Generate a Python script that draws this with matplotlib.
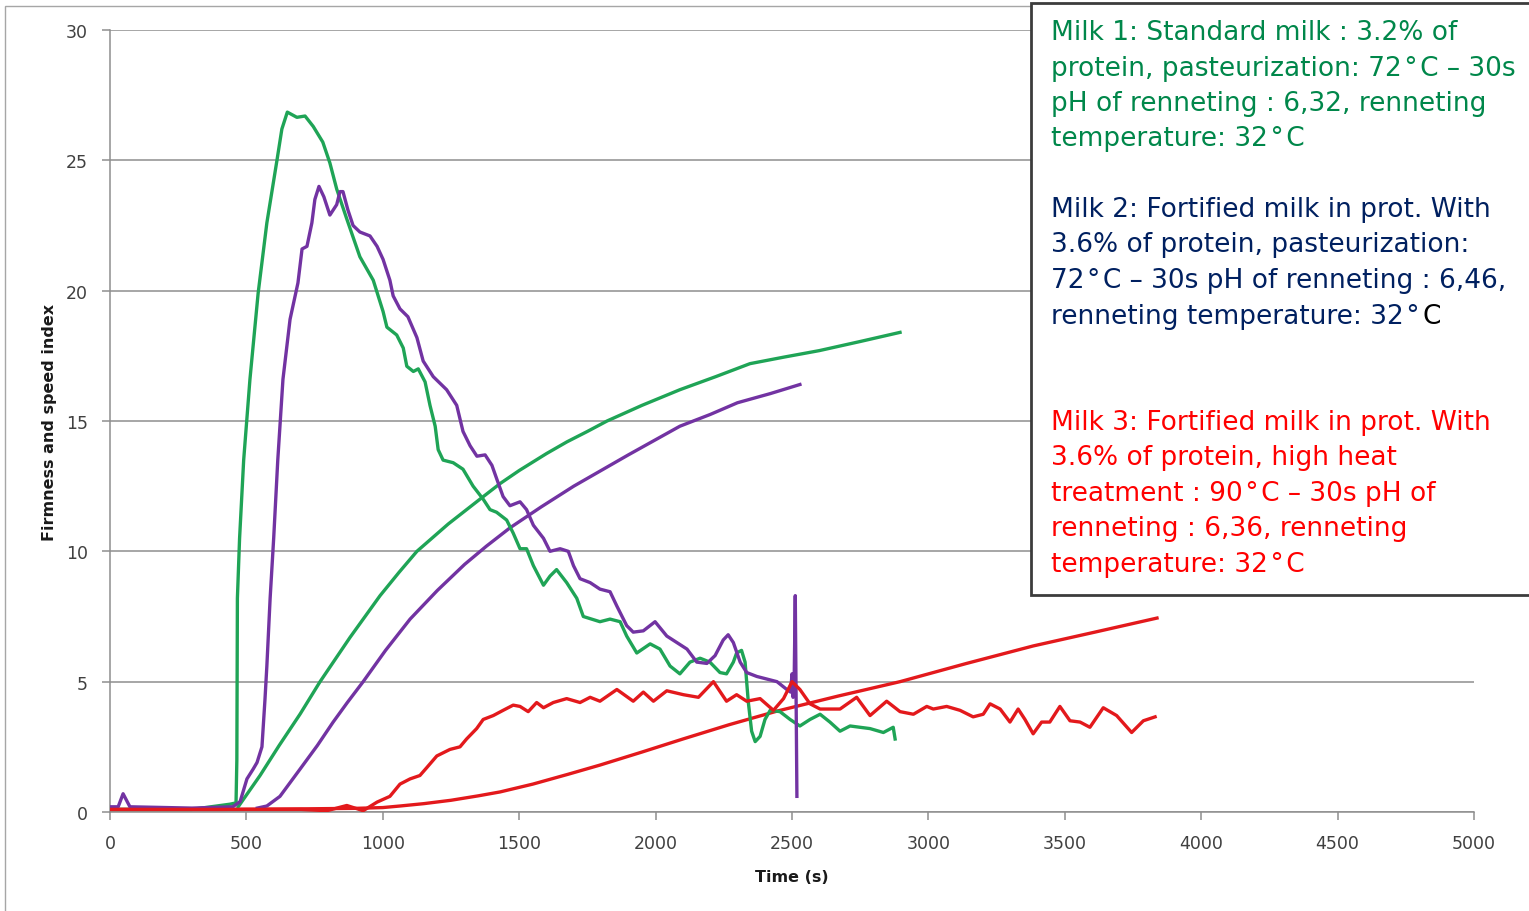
import matplotlib.pyplot as plt
from matplotlib.patches import Rectangle

W, H = 1529, 912

# Milk 1 (standard milk)
m1_speed_t = [0, 300, 440, 462, 465, 467, 475, 490, 513, 543, 575, 612, 630, 650, 685, 715, 745,
              780, 806, 831, 868, 916, 965, 1001, 1015, 1051, 1075, 1088, 1112, 1130, 1155, 1173,
              1192, 1203, 1221, 1258, 1294, 1331, 1368, 1393, 1417, 1454, 1478, 1503, 1527, 1552,
              1589, 1613, 1637, 1674, 1711, 1735, 1796, 1833, 1870, 1894, 1931, 1980, 2016, 2053,
              2089, 2126, 2163, 2199, 2236, 2260, 2285, 2297, 2315, 2328, 2340, 2352, 2365, 2383,
              2401, 2420, 2456, 2493, 2529, 2566, 2603, 2639, 2676, 2713, 2749, 2786, 2835, 2871, 2878]
m1_speed = [0.1, 0.1, 0.3, 0.35, 2.0, 8.2, 10.5, 13.5, 16.6, 19.9, 22.6, 25.0, 26.2, 26.85, 26.65,
            26.7, 26.3, 25.7, 24.9, 23.9, 22.75, 21.3, 20.4, 19.2, 18.6, 18.3, 17.8, 17.1, 16.9, 17.0,
            16.5, 15.6, 14.8, 13.9, 13.5, 13.4, 13.15, 12.5, 12.0, 11.6, 11.5, 11.2, 10.7, 10.1, 10.1,
            9.45, 8.7, 9.05, 9.3, 8.8, 8.2, 7.5, 7.3, 7.4, 7.3, 6.75, 6.1, 6.45, 6.25, 5.6, 5.3, 5.75,
            5.9, 5.75, 5.35, 5.3, 5.75, 6.1, 6.2, 5.75, 4.2, 3.1, 2.7, 2.9, 3.55, 3.9, 3.85, 3.55,
            3.3, 3.55, 3.75, 3.45, 3.1, 3.3, 3.25, 3.2, 3.05, 3.25, 2.8]
m1_firm_t = [470, 550, 620, 697, 770, 880, 990, 1060, 1125, 1240, 1356, 1430, 1500, 1600, 1675,
             1750, 1822, 1950, 2089, 2220, 2346, 2470, 2600, 2750, 2896]
m1_firm = [0.2, 1.4, 2.55, 3.76, 5.0, 6.7, 8.3, 9.2, 10.0, 11.05, 12.0, 12.6, 13.1, 13.75, 14.2,
           14.6, 15.0, 15.6, 16.2, 16.7, 17.2, 17.45, 17.7, 18.05, 18.4]

# Milk 2 (fortified, pasteurized)
m2_speed_t = [0, 30, 48, 73, 300, 450, 477, 502, 525, 539, 557, 568, 575, 587, 600, 615, 634, 660,
              689, 704, 722, 740, 751, 766, 784, 806, 831, 843, 854, 872, 891, 916, 953, 979, 1001,
              1026, 1038, 1063, 1092, 1125, 1148, 1185, 1234, 1271, 1294, 1320, 1345, 1375, 1400,
              1422, 1441, 1466, 1503, 1527, 1552, 1589, 1613, 1650, 1680, 1699, 1723, 1760, 1796,
              1833, 1858, 1894, 1918, 1955, 1998, 2041, 2078, 2115, 2151, 2188, 2218, 2248, 2266,
              2285, 2310, 2334, 2371, 2408, 2445, 2481, 2495, 2500, 2504, 2508, 2512, 2518]
m2_speed = [0.2, 0.2, 0.7, 0.2, 0.15, 0.2, 0.4, 1.27, 1.65, 1.9, 2.5, 4.3, 5.6, 8.2, 10.5, 13.5,
            16.6, 18.9, 20.3, 21.6, 21.7, 22.6, 23.5, 24.0, 23.6, 22.9, 23.3, 23.8, 23.8, 23.1, 22.5,
            22.25, 22.1, 21.7, 21.2, 20.4, 19.8, 19.3, 19.0, 18.2, 17.3, 16.7, 16.2, 15.6, 14.6, 14.05,
            13.65, 13.7, 13.3, 12.65, 12.1, 11.75, 11.9, 11.6, 11.0, 10.5, 10.0, 10.1, 10.0, 9.45,
            8.95, 8.8, 8.55, 8.45, 7.9, 7.15, 6.9, 6.95, 7.3, 6.75, 6.5, 6.25, 5.75, 5.7, 6.0, 6.6,
            6.8, 6.5, 5.75, 5.35, 5.2, 5.1, 5.0, 4.7, 4.6, 5.3, 4.4, 5.1, 8.3, 0.6]
m2_firm_t = [540, 575, 623, 697, 760, 818, 870, 928, 1010, 1100, 1200, 1300, 1380, 1466, 1580,
             1700, 1900, 2089, 2200, 2300, 2420, 2529]
m2_firm = [0.15, 0.23, 0.6, 1.65, 2.55, 3.45, 4.2, 5.0, 6.2, 7.4, 8.5, 9.5, 10.2, 10.9, 11.7,
           12.5, 13.7, 14.8, 15.25, 15.7, 16.05, 16.4]

# Milk 3 (fortified, high heat treatment)
m3_speed_t = [0, 400, 700, 795, 868, 928, 979, 1026, 1063, 1100, 1136, 1161, 1198, 1246, 1283,
              1307, 1344, 1368, 1405, 1441, 1478, 1503, 1533, 1564, 1589, 1625, 1674, 1723, 1760,
              1796, 1858, 1918, 1955, 1992, 2041, 2102, 2157, 2212, 2260, 2297, 2334, 2383, 2432,
              2469, 2500, 2529, 2566, 2603, 2676, 2737, 2786, 2847, 2896, 2945, 2994, 3018, 3067,
              3116, 3164, 3201, 3226, 3263, 3299, 3329, 3354, 3384, 3415, 3445, 3482, 3519, 3556,
              3592, 3641, 3690, 3745, 3788, 3831]
m3_speed = [0.1, 0.1, 0.1, 0.05, 0.25, 0.05, 0.38, 0.6, 1.07, 1.27, 1.4, 1.7, 2.15, 2.4, 2.5, 2.8,
            3.2, 3.55, 3.7, 3.9, 4.1, 4.05, 3.85, 4.2, 4.0, 4.2, 4.35, 4.2, 4.4, 4.25, 4.7, 4.25,
            4.6, 4.25, 4.65, 4.5, 4.4, 5.0, 4.25, 4.5, 4.25, 4.35, 3.9, 4.35, 5.0, 4.7, 4.15, 3.95,
            3.95, 4.4, 3.7, 4.25, 3.85, 3.75, 4.05, 3.95, 4.05, 3.9, 3.65, 3.75, 4.15, 3.95, 3.45,
            3.95, 3.55, 3.0, 3.45, 3.45, 4.05, 3.5, 3.45, 3.25, 4.0, 3.7, 3.05, 3.5, 3.65]
m3_firm_t = [0, 400, 700, 900, 1000, 1063, 1150, 1250, 1350, 1430, 1550, 1680, 1796, 1950, 2100,
             2270, 2445, 2670, 2896, 3140, 3384, 3610, 3838]
m3_firm = [0.1, 0.1, 0.12, 0.14, 0.17, 0.23, 0.32, 0.45, 0.62, 0.77, 1.07, 1.45, 1.8, 2.3, 2.8,
           3.35, 3.87, 4.45, 5.0, 5.7, 6.37, 6.9, 7.44]

x_ticks = [0, 500, 1000, 1500, 2000, 2500, 3000, 3500, 4000, 4500, 5000]
y_ticks = [0, 5, 10, 15, 20, 25, 30]

DEG = '\u200a°\u200a'
milk1_lines = ["Milk 1: Standard milk : 3.2% of",
               f"protein, pasteurization: 72{DEG}C – 30s",
               "pH of renneting : 6,32, renneting",
               f"temperature: 32{DEG}C"]
milk2_lines = ["Milk 2: Fortified milk in prot. With",
               "3.6% of protein, pasteurization:",
               f"72{DEG}C – 30s pH of renneting : 6,46,",
               f"renneting temperature: 32{DEG}"]
milk3_lines = ["Milk 3: Fortified milk in prot. With",
               "3.6% of protein, high heat",
               f"treatment : 90{DEG}C – 30s pH of",
               "renneting : 6,36, renneting",
               f"temperature: 32{DEG}C"]

GREEN = '#1fa456'
PURPLE = '#7233a2'
RED = '#e3191c'
GRID = '#8e8e8e'

fig = plt.figure(figsize=(W / 100, H / 100), dpi=100)
ax = fig.add_axes([110 / W, 1 - 813 / H, (1474 - 110) / W, (813 - 31) / H])

lw = 2.4
ax.plot(m3_firm_t, m3_firm, color=RED, lw=lw, zorder=3)
ax.plot(m2_firm_t, m2_firm, color=PURPLE, lw=lw, zorder=3)
ax.plot(m1_firm_t, m1_firm, color=GREEN, lw=lw, zorder=3)
ax.plot(m1_speed_t, m1_speed, color=GREEN, lw=lw, zorder=3)
ax.plot(m2_speed_t, m2_speed, color=PURPLE, lw=lw, zorder=3)
ax.plot(m3_speed_t, m3_speed, color=RED, lw=lw, zorder=4)

ax.set_xlim(0, 5000)
ax.set_ylim(0, 30)
ax.set_xticks(x_ticks)
ax.set_yticks(y_ticks)
ax.yaxis.grid(True, color=GRID, lw=1.1)
ax.set_axisbelow(True)
for side in ['top', 'right']:
    ax.spines[side].set_visible(False)
for side in ['left', 'bottom']:
    ax.spines[side].set_color(GRID)
    ax.spines[side].set_linewidth(1.1)
ax.tick_params(axis='both', colors=GRID, length=6, width=1.1, labelsize=12.5, labelcolor='#404040')
ax.tick_params(axis='x', pad=10)
ax.tick_params(axis='y', pad=10)
ax.set_xlabel('Time (s)', fontsize=11.5, fontweight='bold', color='#1a1a1a', labelpad=12)
ax.set_ylabel('Firmness and speed index', fontsize=11.5, fontweight='bold', color='#1a1a1a', labelpad=6)

# outer chart frame
fig.patches.append(Rectangle((5 / W, -0.1), 1.2, 1 - 7 / H + 0.1, transform=fig.transFigure,
                             fill=False, edgecolor='#a6a6a6', lw=1.0, zorder=0))

# description box
fig.patches.append(Rectangle((1031 / W, 1 - 596 / H), 0.5, (596 - 4) / H, transform=fig.transFigure,
                             facecolor='white', edgecolor='#3c3c3c', lw=2.0, zorder=5))

font = dict(family='DejaVu Sans', fontsize=19, va='center', ha='left', zorder=6)


def put_lines(lines, y0, color):
    txt = None
    for i, line in enumerate(lines):
        txt = fig.text(1051 / W, 1 - (y0 + i * 35.5) / H, line, color=color, **font)
    return txt


put_lines(milk1_lines, 33, '#00874a')
last = put_lines(milk2_lines, 210, '#002060')
put_lines(milk3_lines, 423, '#ff0000')

# the trailing "C" of Milk 2 is set in black
renderer = fig.canvas.get_renderer()
bb = last.get_window_extent(renderer=renderer)
fig.text(bb.x1 / W, 1 - (210 + 3 * 35.5) / H, 'C', color='black', **font)

fig.savefig('out.png', dpi=100)
